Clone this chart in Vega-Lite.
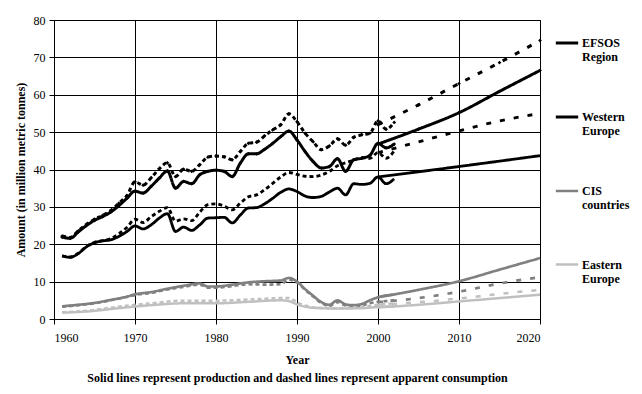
{
  "$schema": "https://vega.github.io/schema/vega-lite/v6.json",
  "autosize": {"type": "none"},
  "padding": {"left": 54, "top": 20, "right": 102, "bottom": 75},
  "width": 486,
  "height": 299,
  "background": "white",
  "config": {
    "font": "Liberation Serif",
    "view": {"stroke": "black", "strokeWidth": 1},
    "axis": {
      "labelFont": "Liberation Serif",
      "labelFontSize": 12,
      "labelColor": "black",
      "titleFont": "Liberation Serif",
      "titleFontSize": 12,
      "titleFontWeight": "bold",
      "titleColor": "black",
      "gridColor": "black",
      "gridOpacity": 1,
      "gridWidth": 1,
      "domainColor": "black",
      "tickColor": "black",
      "tickSize": 5,
      "labelPadding": 4
    }
  },
  "data": {
    "values": [
      {"region": "EFSOS Region", "line": "Production", "year": 1961, "value": 21.9},
      {"region": "EFSOS Region", "line": "Production", "year": 1962, "value": 21.6},
      {"region": "EFSOS Region", "line": "Production", "year": 1963, "value": 23.3},
      {"region": "EFSOS Region", "line": "Production", "year": 1964, "value": 25.0},
      {"region": "EFSOS Region", "line": "Production", "year": 1965, "value": 26.4},
      {"region": "EFSOS Region", "line": "Production", "year": 1966, "value": 27.4},
      {"region": "EFSOS Region", "line": "Production", "year": 1967, "value": 28.6},
      {"region": "EFSOS Region", "line": "Production", "year": 1968, "value": 30.3},
      {"region": "EFSOS Region", "line": "Production", "year": 1969, "value": 32.3},
      {"region": "EFSOS Region", "line": "Production", "year": 1970, "value": 34.2},
      {"region": "EFSOS Region", "line": "Production", "year": 1971, "value": 33.7},
      {"region": "EFSOS Region", "line": "Production", "year": 1972, "value": 35.5},
      {"region": "EFSOS Region", "line": "Production", "year": 1973, "value": 37.7},
      {"region": "EFSOS Region", "line": "Production", "year": 1974, "value": 39.6},
      {"region": "EFSOS Region", "line": "Production", "year": 1975, "value": 35.0},
      {"region": "EFSOS Region", "line": "Production", "year": 1976, "value": 36.8},
      {"region": "EFSOS Region", "line": "Production", "year": 1977, "value": 36.2},
      {"region": "EFSOS Region", "line": "Production", "year": 1978, "value": 38.6},
      {"region": "EFSOS Region", "line": "Production", "year": 1979, "value": 39.5},
      {"region": "EFSOS Region", "line": "Production", "year": 1980, "value": 39.8},
      {"region": "EFSOS Region", "line": "Production", "year": 1981, "value": 39.5},
      {"region": "EFSOS Region", "line": "Production", "year": 1982, "value": 38.1},
      {"region": "EFSOS Region", "line": "Production", "year": 1983, "value": 41.7},
      {"region": "EFSOS Region", "line": "Production", "year": 1984, "value": 44.2},
      {"region": "EFSOS Region", "line": "Production", "year": 1985, "value": 44.2},
      {"region": "EFSOS Region", "line": "Production", "year": 1986, "value": 45.4},
      {"region": "EFSOS Region", "line": "Production", "year": 1987, "value": 47.0},
      {"region": "EFSOS Region", "line": "Production", "year": 1988, "value": 48.8},
      {"region": "EFSOS Region", "line": "Production", "year": 1989, "value": 50.3},
      {"region": "EFSOS Region", "line": "Production", "year": 1990, "value": 47.9},
      {"region": "EFSOS Region", "line": "Production", "year": 1991, "value": 44.8},
      {"region": "EFSOS Region", "line": "Production", "year": 1992, "value": 42.1},
      {"region": "EFSOS Region", "line": "Production", "year": 1993, "value": 40.4},
      {"region": "EFSOS Region", "line": "Production", "year": 1994, "value": 40.8},
      {"region": "EFSOS Region", "line": "Production", "year": 1995, "value": 42.9},
      {"region": "EFSOS Region", "line": "Production", "year": 1996, "value": 39.5},
      {"region": "EFSOS Region", "line": "Production", "year": 1997, "value": 42.6},
      {"region": "EFSOS Region", "line": "Production", "year": 1998, "value": 43.0},
      {"region": "EFSOS Region", "line": "Production", "year": 1999, "value": 43.8},
      {"region": "EFSOS Region", "line": "Production", "year": 2000, "value": 47.0},
      {"region": "EFSOS Region", "line": "Production", "year": 2001, "value": 45.8},
      {"region": "EFSOS Region", "line": "Production", "year": 2002, "value": 46.8},
      {"region": "EFSOS Region", "line": "Production (projection)", "year": 2000, "value": 46.8},
      {"region": "EFSOS Region", "line": "Production (projection)", "year": 2005, "value": 50.8},
      {"region": "EFSOS Region", "line": "Production (projection)", "year": 2010, "value": 55.2},
      {"region": "EFSOS Region", "line": "Production (projection)", "year": 2015, "value": 60.9},
      {"region": "EFSOS Region", "line": "Production (projection)", "year": 2020, "value": 66.5},

      {"region": "EFSOS Region", "line": "Consumption", "year": 1961, "value": 22.2},
      {"region": "EFSOS Region", "line": "Consumption", "year": 1962, "value": 21.8},
      {"region": "EFSOS Region", "line": "Consumption", "year": 1963, "value": 23.6},
      {"region": "EFSOS Region", "line": "Consumption", "year": 1964, "value": 25.3},
      {"region": "EFSOS Region", "line": "Consumption", "year": 1965, "value": 26.7},
      {"region": "EFSOS Region", "line": "Consumption", "year": 1966, "value": 27.7},
      {"region": "EFSOS Region", "line": "Consumption", "year": 1967, "value": 29.0},
      {"region": "EFSOS Region", "line": "Consumption", "year": 1968, "value": 31.0},
      {"region": "EFSOS Region", "line": "Consumption", "year": 1969, "value": 33.0},
      {"region": "EFSOS Region", "line": "Consumption", "year": 1970, "value": 36.7},
      {"region": "EFSOS Region", "line": "Consumption", "year": 1971, "value": 35.8},
      {"region": "EFSOS Region", "line": "Consumption", "year": 1972, "value": 37.8},
      {"region": "EFSOS Region", "line": "Consumption", "year": 1973, "value": 40.2},
      {"region": "EFSOS Region", "line": "Consumption", "year": 1974, "value": 41.8},
      {"region": "EFSOS Region", "line": "Consumption", "year": 1975, "value": 38.1},
      {"region": "EFSOS Region", "line": "Consumption", "year": 1976, "value": 40.1},
      {"region": "EFSOS Region", "line": "Consumption", "year": 1977, "value": 39.5},
      {"region": "EFSOS Region", "line": "Consumption", "year": 1978, "value": 41.3},
      {"region": "EFSOS Region", "line": "Consumption", "year": 1979, "value": 43.3},
      {"region": "EFSOS Region", "line": "Consumption", "year": 1980, "value": 43.6},
      {"region": "EFSOS Region", "line": "Consumption", "year": 1981, "value": 43.4},
      {"region": "EFSOS Region", "line": "Consumption", "year": 1982, "value": 42.6},
      {"region": "EFSOS Region", "line": "Consumption", "year": 1983, "value": 44.8},
      {"region": "EFSOS Region", "line": "Consumption", "year": 1984, "value": 47.0},
      {"region": "EFSOS Region", "line": "Consumption", "year": 1985, "value": 47.3},
      {"region": "EFSOS Region", "line": "Consumption", "year": 1986, "value": 49.0},
      {"region": "EFSOS Region", "line": "Consumption", "year": 1987, "value": 50.6},
      {"region": "EFSOS Region", "line": "Consumption", "year": 1988, "value": 52.0},
      {"region": "EFSOS Region", "line": "Consumption", "year": 1989, "value": 54.9},
      {"region": "EFSOS Region", "line": "Consumption", "year": 1990, "value": 52.8},
      {"region": "EFSOS Region", "line": "Consumption", "year": 1991, "value": 49.7},
      {"region": "EFSOS Region", "line": "Consumption", "year": 1992, "value": 47.4},
      {"region": "EFSOS Region", "line": "Consumption", "year": 1993, "value": 45.3},
      {"region": "EFSOS Region", "line": "Consumption", "year": 1994, "value": 46.3},
      {"region": "EFSOS Region", "line": "Consumption", "year": 1995, "value": 48.2},
      {"region": "EFSOS Region", "line": "Consumption", "year": 1996, "value": 46.5},
      {"region": "EFSOS Region", "line": "Consumption", "year": 1997, "value": 48.6},
      {"region": "EFSOS Region", "line": "Consumption", "year": 1998, "value": 49.3},
      {"region": "EFSOS Region", "line": "Consumption", "year": 1999, "value": 49.7},
      {"region": "EFSOS Region", "line": "Consumption", "year": 2000, "value": 53.0},
      {"region": "EFSOS Region", "line": "Consumption", "year": 2001, "value": 50.8},
      {"region": "EFSOS Region", "line": "Consumption", "year": 2002, "value": 52.6},
      {"region": "EFSOS Region", "line": "Consumption (projection)", "year": 2000, "value": 52.0},
      {"region": "EFSOS Region", "line": "Consumption (projection)", "year": 2005, "value": 57.3},
      {"region": "EFSOS Region", "line": "Consumption (projection)", "year": 2010, "value": 63.0},
      {"region": "EFSOS Region", "line": "Consumption (projection)", "year": 2015, "value": 68.6},
      {"region": "EFSOS Region", "line": "Consumption (projection)", "year": 2020, "value": 74.5},

      {"region": "Western Europe", "line": "Production", "year": 1961, "value": 16.9},
      {"region": "Western Europe", "line": "Production", "year": 1962, "value": 16.5},
      {"region": "Western Europe", "line": "Production", "year": 1963, "value": 17.5},
      {"region": "Western Europe", "line": "Production", "year": 1964, "value": 19.3},
      {"region": "Western Europe", "line": "Production", "year": 1965, "value": 20.4},
      {"region": "Western Europe", "line": "Production", "year": 1966, "value": 20.9},
      {"region": "Western Europe", "line": "Production", "year": 1967, "value": 21.2},
      {"region": "Western Europe", "line": "Production", "year": 1968, "value": 22.1},
      {"region": "Western Europe", "line": "Production", "year": 1969, "value": 23.4},
      {"region": "Western Europe", "line": "Production", "year": 1970, "value": 24.9},
      {"region": "Western Europe", "line": "Production", "year": 1971, "value": 24.1},
      {"region": "Western Europe", "line": "Production", "year": 1972, "value": 25.2},
      {"region": "Western Europe", "line": "Production", "year": 1973, "value": 27.0},
      {"region": "Western Europe", "line": "Production", "year": 1974, "value": 28.2},
      {"region": "Western Europe", "line": "Production", "year": 1975, "value": 23.4},
      {"region": "Western Europe", "line": "Production", "year": 1976, "value": 24.6},
      {"region": "Western Europe", "line": "Production", "year": 1977, "value": 23.7},
      {"region": "Western Europe", "line": "Production", "year": 1978, "value": 25.2},
      {"region": "Western Europe", "line": "Production", "year": 1979, "value": 27.0},
      {"region": "Western Europe", "line": "Production", "year": 1980, "value": 27.1},
      {"region": "Western Europe", "line": "Production", "year": 1981, "value": 27.2},
      {"region": "Western Europe", "line": "Production", "year": 1982, "value": 25.7},
      {"region": "Western Europe", "line": "Production", "year": 1983, "value": 27.8},
      {"region": "Western Europe", "line": "Production", "year": 1984, "value": 29.7},
      {"region": "Western Europe", "line": "Production", "year": 1985, "value": 29.8},
      {"region": "Western Europe", "line": "Production", "year": 1986, "value": 30.8},
      {"region": "Western Europe", "line": "Production", "year": 1987, "value": 32.3},
      {"region": "Western Europe", "line": "Production", "year": 1988, "value": 33.9},
      {"region": "Western Europe", "line": "Production", "year": 1989, "value": 34.8},
      {"region": "Western Europe", "line": "Production", "year": 1990, "value": 34.1},
      {"region": "Western Europe", "line": "Production", "year": 1991, "value": 32.9},
      {"region": "Western Europe", "line": "Production", "year": 1992, "value": 32.5},
      {"region": "Western Europe", "line": "Production", "year": 1993, "value": 32.8},
      {"region": "Western Europe", "line": "Production", "year": 1994, "value": 34.0},
      {"region": "Western Europe", "line": "Production", "year": 1995, "value": 35.0},
      {"region": "Western Europe", "line": "Production", "year": 1996, "value": 33.2},
      {"region": "Western Europe", "line": "Production", "year": 1997, "value": 36.2},
      {"region": "Western Europe", "line": "Production", "year": 1998, "value": 36.0},
      {"region": "Western Europe", "line": "Production", "year": 1999, "value": 36.3},
      {"region": "Western Europe", "line": "Production", "year": 2000, "value": 38.0},
      {"region": "Western Europe", "line": "Production", "year": 2001, "value": 36.2},
      {"region": "Western Europe", "line": "Production", "year": 2002, "value": 37.5},
      {"region": "Western Europe", "line": "Production (projection)", "year": 2000, "value": 38.0},
      {"region": "Western Europe", "line": "Production (projection)", "year": 2010, "value": 40.8},
      {"region": "Western Europe", "line": "Production (projection)", "year": 2020, "value": 43.7},

      {"region": "Western Europe", "line": "Consumption", "year": 1961, "value": 16.9},
      {"region": "Western Europe", "line": "Consumption", "year": 1962, "value": 16.6},
      {"region": "Western Europe", "line": "Consumption", "year": 1963, "value": 17.6},
      {"region": "Western Europe", "line": "Consumption", "year": 1964, "value": 19.4},
      {"region": "Western Europe", "line": "Consumption", "year": 1965, "value": 20.5},
      {"region": "Western Europe", "line": "Consumption", "year": 1966, "value": 21.0},
      {"region": "Western Europe", "line": "Consumption", "year": 1967, "value": 21.5},
      {"region": "Western Europe", "line": "Consumption", "year": 1968, "value": 22.8},
      {"region": "Western Europe", "line": "Consumption", "year": 1969, "value": 24.5},
      {"region": "Western Europe", "line": "Consumption", "year": 1970, "value": 26.7},
      {"region": "Western Europe", "line": "Consumption", "year": 1971, "value": 25.8},
      {"region": "Western Europe", "line": "Consumption", "year": 1972, "value": 27.4},
      {"region": "Western Europe", "line": "Consumption", "year": 1973, "value": 28.8},
      {"region": "Western Europe", "line": "Consumption", "year": 1974, "value": 29.8},
      {"region": "Western Europe", "line": "Consumption", "year": 1975, "value": 26.2},
      {"region": "Western Europe", "line": "Consumption", "year": 1976, "value": 26.8},
      {"region": "Western Europe", "line": "Consumption", "year": 1977, "value": 26.3},
      {"region": "Western Europe", "line": "Consumption", "year": 1978, "value": 28.6},
      {"region": "Western Europe", "line": "Consumption", "year": 1979, "value": 30.6},
      {"region": "Western Europe", "line": "Consumption", "year": 1980, "value": 30.8},
      {"region": "Western Europe", "line": "Consumption", "year": 1981, "value": 30.2},
      {"region": "Western Europe", "line": "Consumption", "year": 1982, "value": 29.2},
      {"region": "Western Europe", "line": "Consumption", "year": 1983, "value": 31.0},
      {"region": "Western Europe", "line": "Consumption", "year": 1984, "value": 32.7},
      {"region": "Western Europe", "line": "Consumption", "year": 1985, "value": 33.2},
      {"region": "Western Europe", "line": "Consumption", "year": 1986, "value": 34.6},
      {"region": "Western Europe", "line": "Consumption", "year": 1987, "value": 36.3},
      {"region": "Western Europe", "line": "Consumption", "year": 1988, "value": 38.0},
      {"region": "Western Europe", "line": "Consumption", "year": 1989, "value": 39.2},
      {"region": "Western Europe", "line": "Consumption", "year": 1990, "value": 38.7},
      {"region": "Western Europe", "line": "Consumption", "year": 1991, "value": 38.2},
      {"region": "Western Europe", "line": "Consumption", "year": 1992, "value": 38.1},
      {"region": "Western Europe", "line": "Consumption", "year": 1993, "value": 38.5},
      {"region": "Western Europe", "line": "Consumption", "year": 1994, "value": 39.5},
      {"region": "Western Europe", "line": "Consumption", "year": 1995, "value": 41.0},
      {"region": "Western Europe", "line": "Consumption", "year": 1996, "value": 41.8},
      {"region": "Western Europe", "line": "Consumption", "year": 1997, "value": 42.5},
      {"region": "Western Europe", "line": "Consumption", "year": 1998, "value": 43.2},
      {"region": "Western Europe", "line": "Consumption", "year": 1999, "value": 43.0},
      {"region": "Western Europe", "line": "Consumption", "year": 2000, "value": 44.5},
      {"region": "Western Europe", "line": "Consumption", "year": 2001, "value": 43.0},
      {"region": "Western Europe", "line": "Consumption", "year": 2002, "value": 45.0},
      {"region": "Western Europe", "line": "Consumption (projection)", "year": 2000, "value": 44.5},
      {"region": "Western Europe", "line": "Consumption (projection)", "year": 2005, "value": 47.4},
      {"region": "Western Europe", "line": "Consumption (projection)", "year": 2010, "value": 50.3},
      {"region": "Western Europe", "line": "Consumption (projection)", "year": 2015, "value": 53.0},
      {"region": "Western Europe", "line": "Consumption (projection)", "year": 2020, "value": 55.0},

      {"region": "CIS countries", "line": "Production", "year": 1961, "value": 3.4},
      {"region": "CIS countries", "line": "Production", "year": 1963, "value": 3.8},
      {"region": "CIS countries", "line": "Production", "year": 1965, "value": 4.3},
      {"region": "CIS countries", "line": "Production", "year": 1967, "value": 5.1},
      {"region": "CIS countries", "line": "Production", "year": 1969, "value": 6.0},
      {"region": "CIS countries", "line": "Production", "year": 1970, "value": 6.6},
      {"region": "CIS countries", "line": "Production", "year": 1972, "value": 7.2},
      {"region": "CIS countries", "line": "Production", "year": 1974, "value": 8.1},
      {"region": "CIS countries", "line": "Production", "year": 1976, "value": 8.9},
      {"region": "CIS countries", "line": "Production", "year": 1978, "value": 9.5},
      {"region": "CIS countries", "line": "Production", "year": 1979, "value": 8.7},
      {"region": "CIS countries", "line": "Production", "year": 1980, "value": 8.7},
      {"region": "CIS countries", "line": "Production", "year": 1982, "value": 9.2},
      {"region": "CIS countries", "line": "Production", "year": 1984, "value": 9.8},
      {"region": "CIS countries", "line": "Production", "year": 1986, "value": 10.1},
      {"region": "CIS countries", "line": "Production", "year": 1988, "value": 10.3},
      {"region": "CIS countries", "line": "Production", "year": 1989, "value": 11.0},
      {"region": "CIS countries", "line": "Production", "year": 1990, "value": 10.0},
      {"region": "CIS countries", "line": "Production", "year": 1991, "value": 8.0},
      {"region": "CIS countries", "line": "Production", "year": 1992, "value": 6.2},
      {"region": "CIS countries", "line": "Production", "year": 1993, "value": 4.5},
      {"region": "CIS countries", "line": "Production", "year": 1994, "value": 3.8},
      {"region": "CIS countries", "line": "Production", "year": 1995, "value": 5.0},
      {"region": "CIS countries", "line": "Production", "year": 1996, "value": 3.9},
      {"region": "CIS countries", "line": "Production", "year": 1997, "value": 3.7},
      {"region": "CIS countries", "line": "Production", "year": 1998, "value": 4.0},
      {"region": "CIS countries", "line": "Production", "year": 1999, "value": 5.0},
      {"region": "CIS countries", "line": "Production", "year": 2000, "value": 5.8},
      {"region": "CIS countries", "line": "Production", "year": 2001, "value": 6.3},
      {"region": "CIS countries", "line": "Production", "year": 2002, "value": 6.5},
      {"region": "CIS countries", "line": "Production (projection)", "year": 2000, "value": 5.8},
      {"region": "CIS countries", "line": "Production (projection)", "year": 2005, "value": 7.8},
      {"region": "CIS countries", "line": "Production (projection)", "year": 2010, "value": 10.1},
      {"region": "CIS countries", "line": "Production (projection)", "year": 2015, "value": 13.2},
      {"region": "CIS countries", "line": "Production (projection)", "year": 2020, "value": 16.3},

      {"region": "CIS countries", "line": "Consumption", "year": 1961, "value": 3.3},
      {"region": "CIS countries", "line": "Consumption", "year": 1963, "value": 3.7},
      {"region": "CIS countries", "line": "Consumption", "year": 1965, "value": 4.2},
      {"region": "CIS countries", "line": "Consumption", "year": 1967, "value": 5.0},
      {"region": "CIS countries", "line": "Consumption", "year": 1969, "value": 5.9},
      {"region": "CIS countries", "line": "Consumption", "year": 1970, "value": 6.4},
      {"region": "CIS countries", "line": "Consumption", "year": 1972, "value": 7.0},
      {"region": "CIS countries", "line": "Consumption", "year": 1974, "value": 7.9},
      {"region": "CIS countries", "line": "Consumption", "year": 1976, "value": 8.6},
      {"region": "CIS countries", "line": "Consumption", "year": 1978, "value": 9.2},
      {"region": "CIS countries", "line": "Consumption", "year": 1979, "value": 8.4},
      {"region": "CIS countries", "line": "Consumption", "year": 1980, "value": 8.4},
      {"region": "CIS countries", "line": "Consumption", "year": 1982, "value": 8.8},
      {"region": "CIS countries", "line": "Consumption", "year": 1984, "value": 9.3},
      {"region": "CIS countries", "line": "Consumption", "year": 1986, "value": 9.2},
      {"region": "CIS countries", "line": "Consumption", "year": 1988, "value": 9.3},
      {"region": "CIS countries", "line": "Consumption", "year": 1989, "value": 10.5},
      {"region": "CIS countries", "line": "Consumption", "year": 1990, "value": 9.8},
      {"region": "CIS countries", "line": "Consumption", "year": 1991, "value": 7.8},
      {"region": "CIS countries", "line": "Consumption", "year": 1992, "value": 6.0},
      {"region": "CIS countries", "line": "Consumption", "year": 1993, "value": 4.3},
      {"region": "CIS countries", "line": "Consumption", "year": 1994, "value": 3.5},
      {"region": "CIS countries", "line": "Consumption", "year": 1995, "value": 4.5},
      {"region": "CIS countries", "line": "Consumption", "year": 1996, "value": 3.6},
      {"region": "CIS countries", "line": "Consumption", "year": 1997, "value": 3.4},
      {"region": "CIS countries", "line": "Consumption", "year": 1998, "value": 3.6},
      {"region": "CIS countries", "line": "Consumption", "year": 1999, "value": 4.2},
      {"region": "CIS countries", "line": "Consumption", "year": 2000, "value": 4.6},
      {"region": "CIS countries", "line": "Consumption", "year": 2001, "value": 4.8},
      {"region": "CIS countries", "line": "Consumption", "year": 2002, "value": 5.0},
      {"region": "CIS countries", "line": "Consumption (projection)", "year": 2000, "value": 4.5},
      {"region": "CIS countries", "line": "Consumption (projection)", "year": 2005, "value": 5.6},
      {"region": "CIS countries", "line": "Consumption (projection)", "year": 2010, "value": 7.3},
      {"region": "CIS countries", "line": "Consumption (projection)", "year": 2015, "value": 9.5},
      {"region": "CIS countries", "line": "Consumption (projection)", "year": 2020, "value": 11.2},

      {"region": "Eastern Europe", "line": "Production", "year": 1961, "value": 1.7},
      {"region": "Eastern Europe", "line": "Production", "year": 1964, "value": 2.0},
      {"region": "Eastern Europe", "line": "Production", "year": 1968, "value": 2.9},
      {"region": "Eastern Europe", "line": "Production", "year": 1972, "value": 3.7},
      {"region": "Eastern Europe", "line": "Production", "year": 1976, "value": 4.2},
      {"region": "Eastern Europe", "line": "Production", "year": 1980, "value": 4.2},
      {"region": "Eastern Europe", "line": "Production", "year": 1984, "value": 4.6},
      {"region": "Eastern Europe", "line": "Production", "year": 1988, "value": 5.0},
      {"region": "Eastern Europe", "line": "Production", "year": 1989, "value": 4.8},
      {"region": "Eastern Europe", "line": "Production", "year": 1990, "value": 3.9},
      {"region": "Eastern Europe", "line": "Production", "year": 1991, "value": 3.3},
      {"region": "Eastern Europe", "line": "Production", "year": 1992, "value": 3.0},
      {"region": "Eastern Europe", "line": "Production", "year": 1995, "value": 2.8},
      {"region": "Eastern Europe", "line": "Production", "year": 1998, "value": 2.9},
      {"region": "Eastern Europe", "line": "Production", "year": 2000, "value": 3.2},
      {"region": "Eastern Europe", "line": "Production", "year": 2002, "value": 3.4},
      {"region": "Eastern Europe", "line": "Production (projection)", "year": 2000, "value": 3.1},
      {"region": "Eastern Europe", "line": "Production (projection)", "year": 2005, "value": 3.8},
      {"region": "Eastern Europe", "line": "Production (projection)", "year": 2010, "value": 4.7},
      {"region": "Eastern Europe", "line": "Production (projection)", "year": 2015, "value": 5.6},
      {"region": "Eastern Europe", "line": "Production (projection)", "year": 2020, "value": 6.5},

      {"region": "Eastern Europe", "line": "Consumption", "year": 1961, "value": 1.8},
      {"region": "Eastern Europe", "line": "Consumption", "year": 1964, "value": 2.2},
      {"region": "Eastern Europe", "line": "Consumption", "year": 1968, "value": 3.3},
      {"region": "Eastern Europe", "line": "Consumption", "year": 1972, "value": 4.2},
      {"region": "Eastern Europe", "line": "Consumption", "year": 1976, "value": 4.9},
      {"region": "Eastern Europe", "line": "Consumption", "year": 1980, "value": 4.9},
      {"region": "Eastern Europe", "line": "Consumption", "year": 1984, "value": 5.2},
      {"region": "Eastern Europe", "line": "Consumption", "year": 1988, "value": 5.6},
      {"region": "Eastern Europe", "line": "Consumption", "year": 1989, "value": 5.6},
      {"region": "Eastern Europe", "line": "Consumption", "year": 1990, "value": 4.5},
      {"region": "Eastern Europe", "line": "Consumption", "year": 1991, "value": 3.6},
      {"region": "Eastern Europe", "line": "Consumption", "year": 1992, "value": 3.1},
      {"region": "Eastern Europe", "line": "Consumption", "year": 1995, "value": 2.9},
      {"region": "Eastern Europe", "line": "Consumption", "year": 1998, "value": 3.2},
      {"region": "Eastern Europe", "line": "Consumption", "year": 2000, "value": 3.8},
      {"region": "Eastern Europe", "line": "Consumption", "year": 2002, "value": 4.2},
      {"region": "Eastern Europe", "line": "Consumption (projection)", "year": 2000, "value": 3.8},
      {"region": "Eastern Europe", "line": "Consumption (projection)", "year": 2005, "value": 4.5},
      {"region": "Eastern Europe", "line": "Consumption (projection)", "year": 2010, "value": 5.5},
      {"region": "Eastern Europe", "line": "Consumption (projection)", "year": 2015, "value": 6.7},
      {"region": "Eastern Europe", "line": "Consumption (projection)", "year": 2020, "value": 7.8}
    ]
  },
  "encoding": {
    "x": {
      "field": "year",
      "type": "quantitative",
      "scale": {"domain": [1960, 2020], "nice": false, "zero": false},
      "axis": {
        "values": [1960, 1970, 1980, 1990, 2000, 2010, 2020],
        "format": "d",
        "labelPadding": 8,
        "title": ["Year", "Solid lines represent production and dashed lines represent apparent consumption"],
        "titleLineHeight": 18,
        "titlePadding": 11
      }
    },
    "y": {
      "field": "value",
      "type": "quantitative",
      "scale": {"domain": [0, 80], "nice": false},
      "axis": {
        "values": [0, 10, 20, 30, 40, 50, 60, 70, 80],
        "title": "Amount (in million metric tonnes)",
        "titlePadding": 6
      }
    }
  },
  "layer": [
    {
      "mark": {"type": "line", "interpolate": "monotone"},
      "encoding": {
        "color": {
          "field": "region",
          "type": "nominal",
          "scale": {
            "domain": ["EFSOS Region", "Western Europe", "CIS countries", "Eastern Europe"],
            "range": ["#000000", "#000000", "#808080", "#c0c0c0"]
          },
          "legend": {
            "title": null,
            "orient": "none",
            "legendX": 500,
            "legendY": 10,
            "symbolType": "stroke",
            "symbolStrokeWidth": 3,
            "symbolSize": 500,
            "symbolDash": [1, 0],
            "labelExpr": "split(datum.label, ' ')",
            "labelFont": "Liberation Serif",
            "labelFontSize": 12,
            "labelFontWeight": "bold",
            "labelColor": "black",
            "labelBaseline": "middle",
            "labelOffset": 2,
            "rowPadding": 41
          }
        },
        "strokeDash": {
          "field": "line",
          "type": "nominal",
          "scale": {
            "domain": ["Production", "Consumption", "Production (projection)", "Consumption (projection)"],
            "range": [[1, 0], [4, 3], [1, 0], [5, 9]]
          },
          "legend": null
        },
        "strokeWidth": {
          "field": "region",
          "type": "nominal",
          "scale": {
            "domain": ["EFSOS Region", "Western Europe", "CIS countries", "Eastern Europe"],
            "range": [3, 2.5, 3.5, 3.5]
          },
          "legend": null
        },
        "detail": {"field": "line"}
      }
    },
    {
      "transform": [{"filter": "datum.region == 'EFSOS Region'"}],
      "mark": {"type": "point", "shape": "diamond", "filled": true, "size": 14, "color": "black", "opacity": 1},
      "encoding": {}
    }
  ]
}
